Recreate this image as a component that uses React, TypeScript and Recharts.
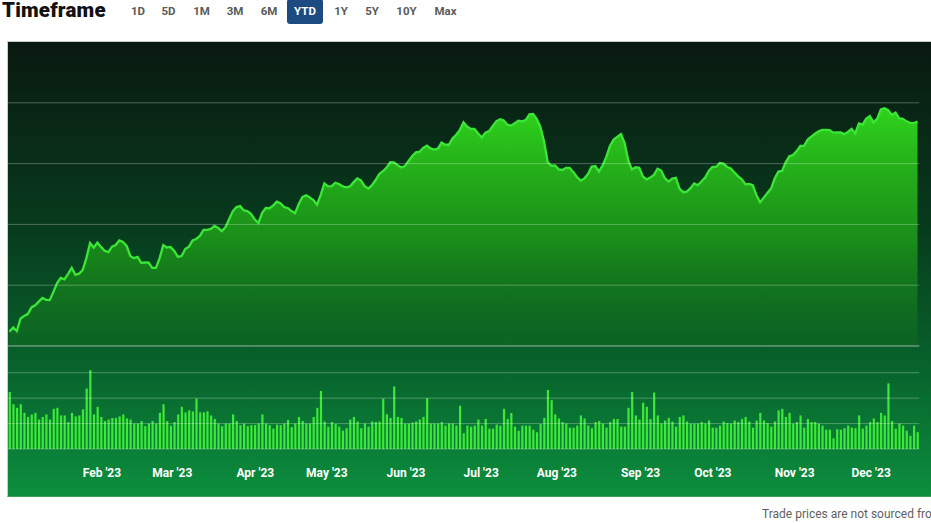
import React from "react";
import { ComposedChart, Area, Bar, XAxis, YAxis, ReferenceLine } from "recharts";

// daily close, Jan 3 → Dec 28 (trading days)
const price = [
  124.7, 126.1, 124.9, 129.0, 129.9, 130.5, 132.7, 133.4, 134.6, 135.8,
  135.2, 135.1, 137.8, 140.7, 142.4, 141.9, 143.7, 145.7, 143.4, 143.8,
  145.0, 148.9, 153.9, 152.4, 154.0, 152.6, 151.3, 150.9, 152.7, 153.2,
  154.7, 154.2, 152.9, 149.6, 148.9, 149.3, 147.3, 147.5, 147.4, 145.7,
  145.7, 148.9, 153.2, 152.4, 152.6, 151.3, 149.3, 149.6, 151.9, 152.7,
  154.7, 155.2, 156.2, 158.2, 158.2, 158.5, 159.5, 158.8, 157.8, 159.1,
  161.8, 164.4, 165.7, 166.0, 164.6, 164.4, 163.4, 161.6, 160.5, 163.8,
  165.4, 165.3, 166.2, 167.5, 167.0, 165.7, 165.4, 164.4, 163.7, 166.7,
  169.0, 169.6, 168.9, 168.0, 166.5, 169.7, 173.5, 172.5, 172.6, 173.7,
  173.3, 172.5, 172.2, 172.5, 173.9, 175.1, 174.5, 172.6, 171.8, 172.9,
  174.6, 176.6, 177.5, 178.7, 180.5, 180.4, 179.5, 178.7, 179.2, 180.9,
  182.5, 183.7, 183.9, 185.2, 185.9, 185.0, 184.6, 184.9, 186.9, 186.2,
  186.2, 188.3, 189.5, 191.1, 193.6, 192.2, 191.4, 191.4, 189.9, 188.6,
  190.2, 190.7, 192.4, 194.0, 194.6, 194.2, 192.8, 192.5, 193.3, 194.1,
  193.9, 194.3, 196.2, 196.3, 194.7, 192.1, 187.3, 180.5, 179.3, 179.4,
  178.1, 177.9, 178.6, 178.6, 177.2, 175.6, 174.4, 175.1, 176.6, 179.0,
  179.2, 177.4, 179.4, 182.2, 185.8, 187.9, 188.8, 189.7, 186.8, 181.0,
  178.1, 178.8, 178.6, 175.8, 174.8, 175.4, 176.3, 178.3, 177.7, 175.2,
  174.1, 175.1, 175.3, 171.8, 170.6, 170.8, 171.9, 173.5, 172.9, 174.1,
  175.4, 177.6, 178.9, 178.9, 180.2, 180.0, 178.9, 178.4, 177.1, 175.8,
  174.8, 173.2, 173.3, 172.9, 169.7, 167.3, 168.8, 170.3, 171.8, 175.1,
  177.4, 177.6, 180.4, 182.4, 182.8, 184.1, 185.8, 185.8, 187.9, 188.9,
  189.8, 190.6, 191.1, 191.1, 191.0, 190.2, 190.3, 190.3, 189.7, 190.4,
  191.4, 190.0, 193.2, 192.8, 194.8, 195.6, 193.5, 194.8, 197.8, 198.2,
  197.6, 196.0, 196.8, 194.9, 194.7, 193.9, 193.4, 193.3, 193.8,
];

// daily volume, millions
const volume = [
  112, 88, 81, 88, 71, 63, 68, 71, 58, 63,
  68, 58, 79, 81, 66, 66, 53, 71, 64, 66,
  78, 119, 155, 68, 83, 63, 55, 58, 61, 61,
  64, 68, 60, 58, 50, 50, 55, 45, 50, 55,
  50, 71, 88, 55, 46, 53, 68, 83, 72, 76,
  74, 99, 72, 72, 74, 66, 59, 50, 45, 50,
  50, 68, 55, 47, 50, 45, 47, 47, 50, 68,
  50, 47, 40, 48, 47, 50, 57, 43, 50, 63,
  55, 50, 50, 63, 81, 114, 54, 44, 53, 49,
  44, 36, 41, 58, 63, 54, 41, 50, 44, 54,
  53, 54, 99, 68, 61, 123, 63, 61, 50, 50,
  52, 54, 58, 63, 100, 50, 50, 50, 53, 46,
  50, 50, 46, 85, 31, 46, 44, 46, 58, 46,
  59, 40, 40, 48, 46, 79, 59, 71, 44, 36,
  46, 46, 46, 38, 33, 49, 61, 116, 96, 68,
  60, 53, 50, 42, 42, 46, 66, 60, 46, 41,
  53, 55, 50, 42, 53, 59, 59, 44, 44, 81,
  112, 66, 58, 91, 83, 59, 111, 66, 50, 56,
  61, 54, 44, 63, 66, 54, 50, 50, 50, 53,
  50, 56, 42, 42, 46, 54, 51, 50, 56, 53,
  59, 63, 54, 42, 56, 71, 56, 51, 44, 54,
  76, 79, 63, 71, 50, 53, 66, 42, 59, 53,
  53, 50, 46, 38, 38, 21, 39, 38, 41, 46,
  42, 41, 66, 40, 46, 53, 60, 53, 71, 66,
  129, 55, 40, 50, 46, 36, 26, 46, 33,
];

const monthTicks = [20, 39, 62, 81, 103, 124, 144, 167, 187, 209, 230];
const monthLabels = ["Feb '23", "Mar '23", "Apr '23", "May '23", "Jun '23", "Jul '23", "Aug '23", "Sep '23", "Oct '23", "Nov '23", "Dec '23"];
const priceTicks = [120, 140, 160, 180, 200];
const volumeTicks = [0, 50, 100, 150];
const timeframes = ["1D", "5D", "1M", "3M", "6M", "YTD", "1Y", "5Y", "10Y", "Max"];
const timeframeCenters = [138, 168.5, 201.5, 235, 269, 305.5, 341, 372, 406.5, 445.5];

const rows = price.map((p, i) => ({ i, price: p, volume: volume[i] }));

const GRID = "rgba(255,255,255,0.28)";

function MonthTick(props: any) {
  const { x, payload } = props;
  const k = monthTicks.indexOf(payload.value);
  return (
    <text x={x} y={126.5} fill="#ffffff" fontSize={12} fontWeight={700} textAnchor="start" fontFamily="Roboto, sans-serif">
      {monthLabels[k]}
    </text>
  );
}

export default function App() {
  return (
    <div style={{ position: "absolute", left: 0, top: 0, width: 931, height: 523, overflow: "hidden", background: "#fff", fontFamily: "Roboto, sans-serif" }}>
      {/* header */}
      <div style={{ position: "absolute", left: 2, top: 1, fontSize: 20.5, lineHeight: "18px", fontWeight: 900, letterSpacing: 0.2, color: "#111" }}>
        Timeframe
      </div>
      {timeframes.map((t, k) => {
        const active = t === "YTD";
        return (
          <div
            key={t}
            style={{
              position: "absolute",
              left: active ? 287 : timeframeCenters[k] - 20,
              width: active ? 36 : 40,
              top: -1,
              height: 25,
              lineHeight: "25px",
              textAlign: "center",
              fontSize: 11.5,
              fontWeight: 700,
              color: active ? "#fff" : "#5a5a5a",
              background: active ? "#1c4b82" : "transparent",
              borderRadius: active ? 3 : 0,
            }}
          >
            {t}
          </div>
        );
      })}

      {/* chart panel */}
      <div
        style={{
          position: "absolute",
          left: 7,
          top: 41,
          width: 930,
          height: 454,
          borderTop: "1px solid #c9cfcb",
          borderLeft: "1px solid #c9cfcb",
          borderBottom: "1px solid #3d9f5a",
          background: "linear-gradient(to bottom, #0a1910 0%, #073a1d 40%, #08682e 75%, #0c8e3e 100%)",
        }}
      />

      <div style={{ position: "absolute", left: 0, top: 0 }}>
        <ComposedChart width={931} height={350} data={rows} margin={{ top: 42, right: 11.7, bottom: 4, left: 7.7 }}>
          <defs>
            <linearGradient id="priceFill" x1="0" y1="0" x2="0" y2="1">
              <stop offset="0%" stopColor="#2fd31c" stopOpacity={1} />
              <stop offset="55%" stopColor="#1e9f18" stopOpacity={0.82} />
              <stop offset="100%" stopColor="#106a1f" stopOpacity={0.5} />
            </linearGradient>
          </defs>
          <XAxis dataKey="i" hide padding={{ left: 1.8, right: 1.8 }} />
          <YAxis hide domain={[120, 220]} ticks={priceTicks} allowDataOverflow />
          {priceTicks.map((v) => (
            <ReferenceLine key={v} y={v} stroke={GRID} strokeWidth={v === 120 ? 2 : 1} />
          ))}
          <Area
            type="linear"
            dataKey="price"
            stroke="#3be736"
            strokeWidth={2.3}
            fill="url(#priceFill)"
            fillOpacity={1}
            dot={false}
            activeDot={false}
            isAnimationActive={false}
          />
        </ComposedChart>
      </div>

      <div style={{ position: "absolute", left: 0, top: 350 }}>
        <ComposedChart width={931} height={146} data={rows} margin={{ top: 10, right: 11.7, bottom: 0, left: 7.7 }} barCategoryGap={0}>
          <XAxis
            dataKey="i"
            height={47}
            ticks={monthTicks}
            interval={0}
            axisLine={false}
            tickLine={false}
            tick={(p: any) => <MonthTick {...p} />}
          />
          <YAxis hide domain={[0, 175]} ticks={volumeTicks} />
          {volumeTicks.map((v) => (
            <ReferenceLine key={v} y={v} stroke={GRID} />
          ))}
          <Bar dataKey="volume" fill="#3ce838" barSize={2.2} isAnimationActive={false} />
        </ComposedChart>
      </div>

      <div style={{ position: "absolute", left: 762, top: 507, fontSize: 12, lineHeight: "14px", color: "#5f5f5f", whiteSpace: "nowrap" }}>
        Trade prices are not sourced from all markets
      </div>
    </div>
  );
}
